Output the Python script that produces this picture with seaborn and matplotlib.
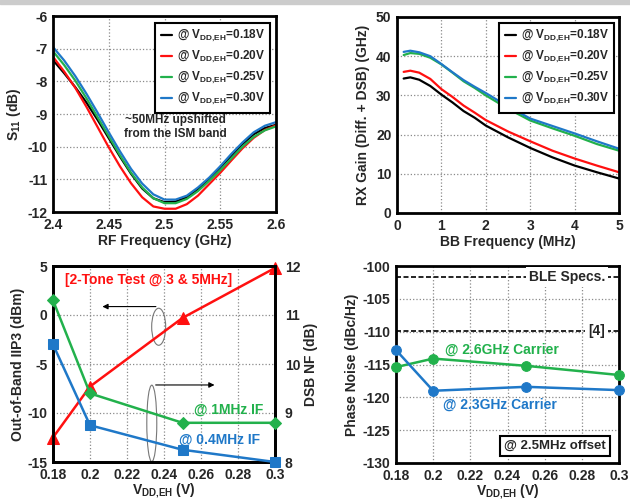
import numpy as np
import pandas as pd
import seaborn as sns
import matplotlib.pyplot as plt
from matplotlib.patches import Ellipse, Rectangle

# --- data ---
vdd_labels = ['0.18V', '0.20V', '0.25V', '0.30V']
line_colors = ['#000000', '#ff1010', '#22b14c', '#1f78c8']

rf_freq = [2.40, 2.41, 2.42, 2.43, 2.44, 2.45, 2.46, 2.47, 2.48, 2.49, 2.50,
           2.51, 2.52, 2.53, 2.54, 2.55, 2.56, 2.57, 2.58, 2.59, 2.60]
s11_018 = [-7.35, -7.75, -8.18, -8.65, -9.18, -9.74, -10.3, -10.83, -11.28, -11.58, -11.70,
           -11.68, -11.55, -11.3, -10.98, -10.64, -10.27, -9.92, -9.62, -9.43, -9.33]
s11_020 = [-7.25, -7.7, -8.2, -8.78, -9.4, -10.02, -10.6, -11.12, -11.55, -11.83, -11.9,
           -11.9, -11.76, -11.5, -11.15, -10.8, -10.42, -10.05, -9.73, -9.49, -9.35]
s11_025 = [-7.08, -7.5, -7.98, -8.52, -9.1, -9.68, -10.26, -10.8, -11.25, -11.58, -11.73,
           -11.73, -11.6, -11.36, -11.05, -10.72, -10.36, -10.0, -9.7, -9.5, -9.38]
s11_030 = [-6.95, -7.36, -7.84, -8.38, -8.96, -9.56, -10.14, -10.68, -11.13, -11.46, -11.62,
           -11.62, -11.5, -11.25, -10.95, -10.6, -10.22, -9.87, -9.56, -9.36, -9.25]

bb_freq = [0.15, 0.3, 0.5, 0.75, 1.0, 1.25, 1.5, 1.75, 2.0, 2.5, 3.0, 3.5, 4.0, 4.5, 5.0]
gain_018 = [34.3, 34.6, 34.0, 32.4, 30.2, 28.2, 26.0, 24.3, 22.3, 19.3, 16.6, 14.2, 12.1, 10.4, 8.8]
gain_020 = [36.0, 36.3, 35.8, 34.2, 31.6, 29.6, 27.4, 25.6, 23.7, 20.8, 18.3, 15.9, 13.9, 12.1, 10.4]
gain_025 = [40.3, 40.8, 40.6, 39.6, 37.9, 35.8, 33.6, 31.9, 30.0, 26.6, 23.6, 21.6, 19.7, 17.6, 15.9]
gain_030 = [41.1, 41.4, 41.0, 40.0, 38.0, 35.9, 33.9, 32.2, 30.6, 27.2, 24.1, 22.2, 20.3, 18.3, 16.4]

vdd = [0.18, 0.20, 0.25, 0.30]
iip3 = [-12.5, -7.3, -0.3, 4.8]
nf_1mhz = [11.3, 9.4, 8.8, 8.8]
nf_04mhz = [10.4, 8.75, 8.25, 8.0]
pn_26ghz = [-115.4, -114.1, -115.2, -116.6]
pn_23ghz = [-112.8, -119.0, -118.4, -118.9]
ble_spec = -101.7
ref4_spec = -109.9

# --- style ---
sns.set_style("white")
plt.rcParams['font.family'] = ['Liberation Sans', 'DejaVu Sans']
plt.rcParams['font.weight'] = 'bold'
plt.rcParams['axes.labelweight'] = 'bold'
plt.rcParams['axes.unicode_minus'] = False
plt.rcParams['mathtext.fontset'] = 'custom'
plt.rcParams['mathtext.rm'] = 'Liberation Sans:bold'
plt.rcParams['mathtext.it'] = 'Liberation Sans:bold'
plt.rcParams['mathtext.bf'] = 'Liberation Sans:bold'
plt.rcParams['mathtext.default'] = 'rm'

RED, GREEN, BLUE = line_colors[1], line_colors[2], line_colors[3]
W, H = 630, 503
fig = plt.figure(figsize=(W / 100, H / 100), dpi=100)
fig.patches.append(Rectangle((0, 1 - 4 / H), 1, 4 / H, transform=fig.transFigure,
                             color='#cccccc', zorder=0))


def make_ax(left, right, top, bottom):
    return fig.add_axes([left / W, (H - bottom) / H, (right - left) / W, (bottom - top) / H])


def style_ax(ax):
    for sp in ax.spines.values():
        sp.set_linewidth(2.0)
        sp.set_color('black')
    ax.tick_params(length=0, labelsize=10, pad=4)
    ax.grid(True, linestyle=':', color='#8a8a8a', linewidth=0.9)
    ax.set_axisbelow(True)


def vlabel(v):
    return r'@ V$_{DD{,}EH}$=' + v


def add_legend(ax, dx, dy):
    leg = ax.legend(loc='upper right', bbox_to_anchor=(1 - dx, 1 - dy), borderaxespad=0,
                    fontsize=8.5, handlelength=1.0, handletextpad=0.35, labelspacing=0.42,
                    borderpad=0.45, fancybox=False, framealpha=1)
    leg.get_frame().set_edgecolor('black')
    leg.get_frame().set_linewidth(1.5)


# --- top left: S11 ---
ax1 = make_ax(53, 276, 16, 212)
df_s11 = pd.DataFrame({
    'freq': rf_freq * 4,
    's11': s11_018 + s11_020 + s11_025 + s11_030,
    'vdd': sum([[vlabel(v)] * len(rf_freq) for v in vdd_labels], []),
})
sns.lineplot(data=df_s11, x='freq', y='s11', hue='vdd', palette=line_colors,
             linewidth=1.6, ax=ax1, sort=False)
ax1.set_xlim(2.4, 2.6)
ax1.set_ylim(-12, -6)
ax1.set_xticks([2.4, 2.45, 2.5, 2.55, 2.6])
ax1.set_xticklabels(['2.4', '2.45', '2.5', '2.55', '2.6'])
ax1.set_yticks(range(-12, -5))
ax1.set_xlabel('RF Frequency (GHz)', fontsize=10, labelpad=2)
ax1.set_ylabel(r'S$_{11}$ (dB)', fontsize=10, labelpad=3)
style_ax(ax1)
add_legend(ax1, 6 / 223, 7 / 196)
ax1.text(0.547, 0.434, '~50MHz upshifted\nfrom the ISM band', transform=ax1.transAxes,
         ha='center', va='center', fontsize=8.5, linespacing=1.3)

# --- top right: RX gain ---
ax2 = make_ax(397, 619, 17, 213)
df_gain = pd.DataFrame({
    'freq': bb_freq * 4,
    'gain': gain_018 + gain_020 + gain_025 + gain_030,
    'vdd': sum([[vlabel(v)] * len(bb_freq) for v in vdd_labels], []),
})
sns.lineplot(data=df_gain, x='freq', y='gain', hue='vdd', palette=line_colors,
             linewidth=1.6, ax=ax2, sort=False)
ax2.set_xlim(0, 5)
ax2.set_ylim(0, 50)
ax2.set_xticks(range(0, 6))
ax2.set_yticks(range(0, 51, 10))
ax2.set_xlabel('BB Frequency (MHz)', fontsize=10, labelpad=2)
ax2.set_ylabel('RX Gain (Diff. + DSB) (GHz)', fontsize=10, labelpad=4)
style_ax(ax2)
add_legend(ax2, 5 / 222, 6 / 196)

# --- bottom left: IIP3 and NF ---
ax3 = make_ax(53, 275, 266, 462)
ax3r = ax3.twinx()
sns.lineplot(x=vdd, y=iip3, color=RED, marker='^', markersize=8, markeredgecolor=RED,
             linewidth=1.8, ax=ax3, clip_on=False, zorder=5)
sns.lineplot(x=vdd, y=nf_1mhz, color=GREEN, marker='D', markersize=6.5, markeredgecolor=GREEN,
             linewidth=1.8, ax=ax3r, clip_on=False, zorder=5)
sns.lineplot(x=vdd, y=nf_04mhz, color=BLUE, marker='s', markersize=7, markeredgecolor=BLUE,
             linewidth=1.8, ax=ax3r, clip_on=False, zorder=5)
ax3.set_xlim(0.18, 0.3)
ax3.set_ylim(-15, 5)
ax3r.set_ylim(8, 12)
ax3.set_xticks([0.18, 0.2, 0.22, 0.24, 0.26, 0.28, 0.3])
ax3.set_xticklabels(['0.18', '0.2', '0.22', '0.24', '0.26', '0.28', '0.3'])
ax3.set_yticks(range(-15, 6, 5))
ax3r.set_yticks(range(8, 13))
ax3.set_xlabel(r'V$_{DD{,}EH}$ (V)', fontsize=10, labelpad=0)
ax3.set_ylabel('Out-of-Band IIP3 (dBm)', fontsize=10, labelpad=2)
ax3r.set_ylabel('DSB NF (dB)', fontsize=10, labelpad=3)
style_ax(ax3)
style_ax(ax3r)
ax3r.tick_params(axis='y', pad=7)
ax3r.grid(False)
ax3.text(0.054, 0.929, '[2-Tone Test @ 3 & 5MHz]', transform=ax3.transAxes, color=RED,
         ha='left', va='center', fontsize=10)
ax3.text(0.948, 0.265, '@ 1MHz IF', transform=ax3.transAxes, color=GREEN,
         ha='right', va='center', fontsize=10)
ax3.text(0.932, 0.112, '@ 0.4MHz IF', transform=ax3.transAxes, color=BLUE,
         ha='right', va='center', fontsize=10)
ax3.add_patch(Ellipse((0.476, 0.69), 0.063, 0.189, transform=ax3.transAxes,
                      fill=False, edgecolor='#777777', linewidth=0.8))
ax3.add_patch(Ellipse((0.445, 0.197), 0.045, 0.39, transform=ax3.transAxes,
                      fill=False, edgecolor='#777777', linewidth=0.8))
ax3.annotate('', xy=(0.21, 0.793), xytext=(0.476, 0.793), xycoords='axes fraction',
             arrowprops=dict(arrowstyle='-|>', color='black', lw=0.8, mutation_scale=8))
ax3.annotate('', xy=(0.74, 0.393), xytext=(0.45, 0.393), xycoords='axes fraction',
             arrowprops=dict(arrowstyle='-|>', color='black', lw=0.8, mutation_scale=8))

# --- bottom right: phase noise ---
ax4 = make_ax(396, 619, 266, 463)
ax4.axhline(ble_spec, color='black', linestyle=(0, (3, 1.5)), linewidth=1.2)
ax4.axhline(ref4_spec, color='black', linestyle=(0, (3, 1.5)), linewidth=1.2)
sns.lineplot(x=vdd, y=pn_26ghz, color=GREEN, marker='o', markersize=7, markeredgecolor=GREEN,
             linewidth=1.8, ax=ax4, clip_on=False, zorder=5)
sns.lineplot(x=vdd, y=pn_23ghz, color=BLUE, marker='o', markersize=7, markeredgecolor=BLUE,
             linewidth=1.8, ax=ax4, clip_on=False, zorder=5)
ax4.set_xlim(0.18, 0.3)
ax4.set_ylim(-130, -100)
ax4.set_xticks([0.18, 0.2, 0.22, 0.24, 0.26, 0.28, 0.3])
ax4.set_xticklabels(['0.18', '0.2', '0.22', '0.24', '0.26', '0.28', '0.3'])
ax4.set_yticks(range(-130, -99, 5))
ax4.set_xlabel(r'V$_{DD{,}EH}$ (V)', fontsize=10, labelpad=0)
ax4.set_ylabel('Phase Noise (dBc/Hz)', fontsize=10, labelpad=3)
style_ax(ax4)
ax4.text(0.937, ble_spec, 'BLE Specs.', transform=ax4.get_yaxis_transform(), ha='right',
         va='center', fontsize=10, bbox=dict(facecolor='white', edgecolor='none', pad=2))
ax4.text(0.937, ref4_spec, '[4]', transform=ax4.get_yaxis_transform(), ha='right',
         va='center', fontsize=10, bbox=dict(facecolor='white', edgecolor='none', pad=2))
ax4.text(0.2063, -112.7, '@ 2.6GHz Carrier', color=GREEN, ha='left', va='center', fontsize=10)
ax4.text(0.2054, -121.1, '@ 2.3GHz Carrier', color=BLUE, ha='left', va='center', fontsize=10)
ax4.text(0.713, 0.088, '@ 2.5MHz offset', transform=ax4.transAxes, ha='center', va='center',
         fontsize=9.5, bbox=dict(facecolor='white', edgecolor='black', linewidth=1.5,
                                 boxstyle='square,pad=0.3'))

fig.savefig('out.png', dpi=100)
